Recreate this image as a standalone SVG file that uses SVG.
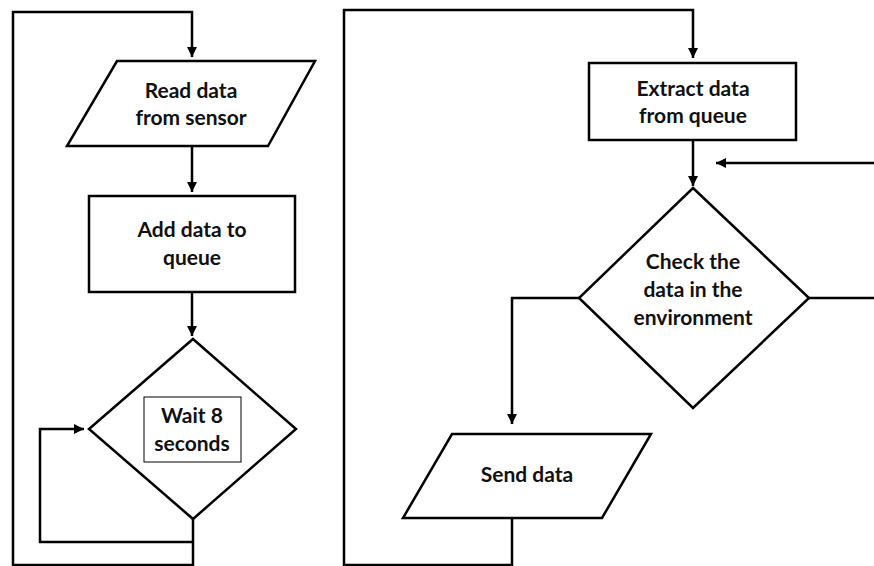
<svg xmlns="http://www.w3.org/2000/svg" width="874" height="566" viewBox="0 0 874 566">
<style>
.shape{fill:#fff;stroke:#000;stroke-width:2.5}
.line{fill:none;stroke:#000;stroke-width:2.5}
.txt{font-family:Lato,"Open Sans","Liberation Sans",sans-serif;font-weight:bold;font-size:21px;fill:#111;text-anchor:middle}
</style>
<defs>
<marker id="ah" viewBox="0 0 10 10" refX="10" refY="5" markerWidth="4" markerHeight="4" orient="auto" markerUnits="strokeWidth">
<path d="M0,0 L10,5 L0,10 z" fill="#000"/>
</marker>
</defs>
<rect width="874" height="566" fill="#fff"/>
<g id="connectors">
<polyline class="line" points="193,519 193,565 13,565 13,12 192,12 192,57" marker-end="url(#ah)"/>
<line class="line" x1="192" y1="146" x2="192" y2="192" marker-end="url(#ah)"/>
<line class="line" x1="192" y1="292" x2="192" y2="336" marker-end="url(#ah)"/>
<polyline class="line" points="193,542 40,542 40,429 84,429" marker-end="url(#ah)"/>
<polyline class="line" points="512,518 512,565 344,565 344,10 693,10 693,58" marker-end="url(#ah)"/>
<line class="line" x1="693" y1="140" x2="693" y2="186" marker-end="url(#ah)"/>
<polyline class="line" points="809,298 876,298 876,163 716,163" marker-end="url(#ah)"/>
<polyline class="line" points="579,298 512,298 512,424" marker-end="url(#ah)"/>
</g>
<g id="read-data">
<polygon class="shape" points="117,61 315,61 268,146 67,146"/>
<text class="txt" x="191" y="98">Read data</text>
<text class="txt" x="191" y="125">from sensor</text>
</g>
<g id="add-data">
<rect class="shape" x="89" y="196" width="206" height="96"/>
<text class="txt" x="192" y="237">Add data to</text>
<text class="txt" x="192" y="265">queue</text>
</g>
<g id="wait">
<polygon class="shape" points="193,339 296,429 193,519 89,429"/>
<rect x="144" y="397" width="97" height="65" fill="#fff" stroke="#000" stroke-width="1"/>
<text class="txt" x="192" y="423">Wait 8</text>
<text class="txt" x="192" y="451">seconds</text>
</g>
<g id="extract">
<rect class="shape" x="589" y="63" width="207" height="77"/>
<text class="txt" x="693" y="96">Extract data</text>
<text class="txt" x="693" y="123">from queue</text>
</g>
<g id="check">
<polygon class="shape" points="693,188 809,298 693,408 579,298"/>
<text class="txt" x="693" y="269">Check the</text>
<text class="txt" x="693" y="297">data in the</text>
<text class="txt" x="693" y="325">environment</text>
</g>
<g id="send">
<polygon class="shape" points="452,434 651,434 602,518 403,518"/>
<text class="txt" x="527" y="482">Send data</text>
</g>
</svg>
